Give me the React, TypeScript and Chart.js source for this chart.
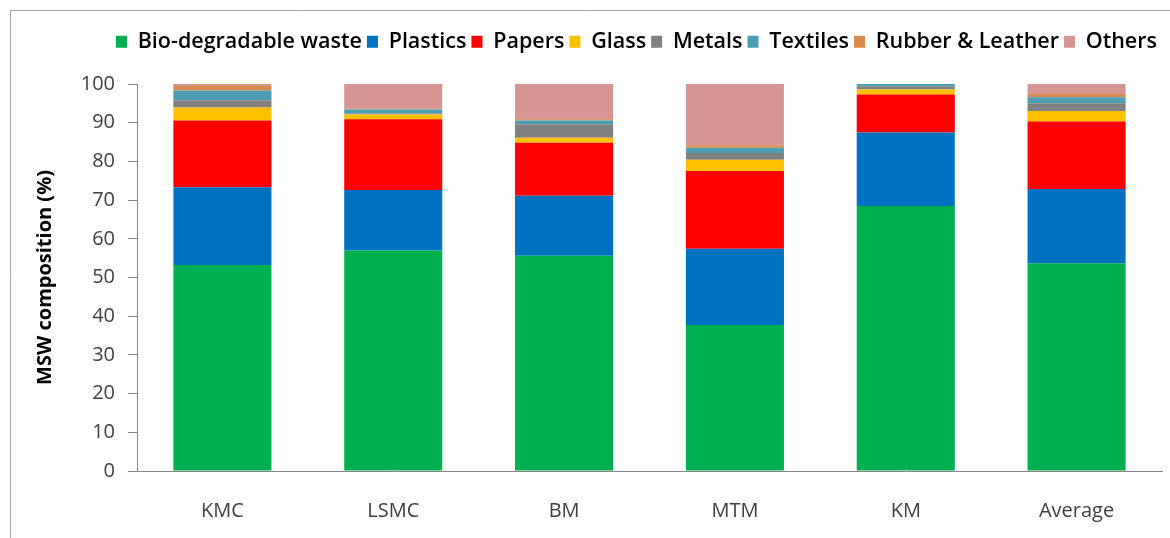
import React, { useEffect, useRef } from "react";
import { Chart, registerables } from "chart.js";

Chart.register(...registerables);

const categories = ["KMC", "LSMC", "BM", "MTM", "KM", "Average"];
const bioDegradable = [53.2, 57.0, 55.6, 37.7, 68.5, 53.7];
const plastics = [20.1, 15.6, 15.5, 19.7, 19.0, 19.2];
const papers = [17.3, 18.3, 13.7, 20.1, 9.8, 17.4];
const glass = [3.3, 1.2, 1.3, 2.9, 1.3, 2.7];
const metals = [1.9, 0.3, 3.5, 1.8, 0.8, 2.0];
const textiles = [2.5, 1.0, 1.0, 1.3, 0.6, 1.6];
const rubberLeather = [1.2, 0.2, 0.3, 0.7, 0.0, 0.8];
const others = [0.5, 6.4, 9.1, 15.8, 0.0, 2.6];
const yTicks = [0, 10, 20, 30, 40, 50, 60, 70, 80, 90, 100];

const seriesNames = [
  "Bio-degradable waste",
  "Plastics",
  "Papers",
  "Glass",
  "Metals",
  "Textiles",
  "Rubber & Leather",
  "Others",
];
const seriesValues = [bioDegradable, plastics, papers, glass, metals, textiles, rubberLeather, others];
const seriesColors = ["#00B050", "#0070C0", "#FF0000", "#FFC000", "#808080", "#4A9DB3", "#D98A4C", "#D59593"];

const FONT = "'Open Sans', 'Noto Sans', sans-serif";

export default function App() {
  const ref = useRef<HTMLCanvasElement | null>(null);

  useEffect(() => {
    if (!ref.current) return;
    const framePlugin = {
      id: "frame",
      beforeInit(chart: any) {
        const legend = chart.legend;
        if (legend) {
          const orig = legend.fit;
          legend.fit = function () {
            orig.call(this);
            this.height = 58;
          };
        }
      },
      beforeDraw(chart: any) {
        const ctx = chart.ctx;
        ctx.save();
        ctx.fillStyle = "#ffffff";
        ctx.fillRect(0, 0, chart.width, chart.height);
        ctx.strokeStyle = "#a6a6a6";
        ctx.lineWidth = 1;
        ctx.beginPath();
        ctx.moveTo(10.5, chart.height);
        ctx.lineTo(10.5, 10.5);
        ctx.lineTo(chart.width, 10.5);
        ctx.stroke();
        ctx.restore();
      },
    };

    const chart = new Chart(ref.current, {
      type: "bar",
      data: {
        labels: categories,
        datasets: seriesNames.map((name, i) => ({
          label: name,
          data: seriesValues[i],
          backgroundColor: seriesColors[i],
          borderWidth: 0,
          barPercentage: 0.574,
          categoryPercentage: 1,
        })),
      },
      options: {
        responsive: false,
        animation: false,
        layout: { padding: { top: 26, right: 8, left: 0, bottom: 0 } },
        plugins: {
          tooltip: { enabled: false },
          legend: {
            position: "top",
            align: "end",
            labels: {
              boxWidth: 11,
              boxHeight: 12,
              padding: 5,
              color: "#000000",
              font: { family: FONT, size: 21.5, weight: "600" },
            },
          },
        },
        scales: {
          x: {
            stacked: true,
            grid: { display: false, drawTicks: false },
            border: { display: true, color: "#868686", width: 1 },
            ticks: {
              color: "#404040",
              padding: 28,
              font: { family: FONT, size: 20 },
            },
            afterFit(scale: any) {
              scale.height = 67;
            },
          },
          y: {
            stacked: true,
            min: 0,
            max: 100,
            afterBuildTicks(scale: any) {
              scale.ticks = yTicks.map((v) => ({ value: v }));
            },
            grid: {
              drawOnChartArea: false,
              drawTicks: true,
              tickLength: 9,
              color: "#868686",
            },
            border: { display: true, color: "#868686", width: 1 },
            ticks: {
              color: "#404040",
              padding: 13,
              font: { family: FONT, size: 20 },
            },
            title: {
              display: true,
              text: "MSW composition (%)",
              color: "#000000",
              padding: { top: 33, bottom: 0 },
              font: { family: FONT, size: 20, weight: "bold" },
            },
            afterFit(scale: any) {
              scale.width = 137;
            },
          },
        },
      },
      plugins: [framePlugin],
    });
    return () => chart.destroy();
  }, []);

  return (
    <div style={{ position: "fixed", left: 0, top: 0, width: 1170, height: 538, background: "#fff" }}>
      <canvas ref={ref} width={1170} height={538} style={{ width: 1170, height: 538, display: "block" }} />
    </div>
  );
}
